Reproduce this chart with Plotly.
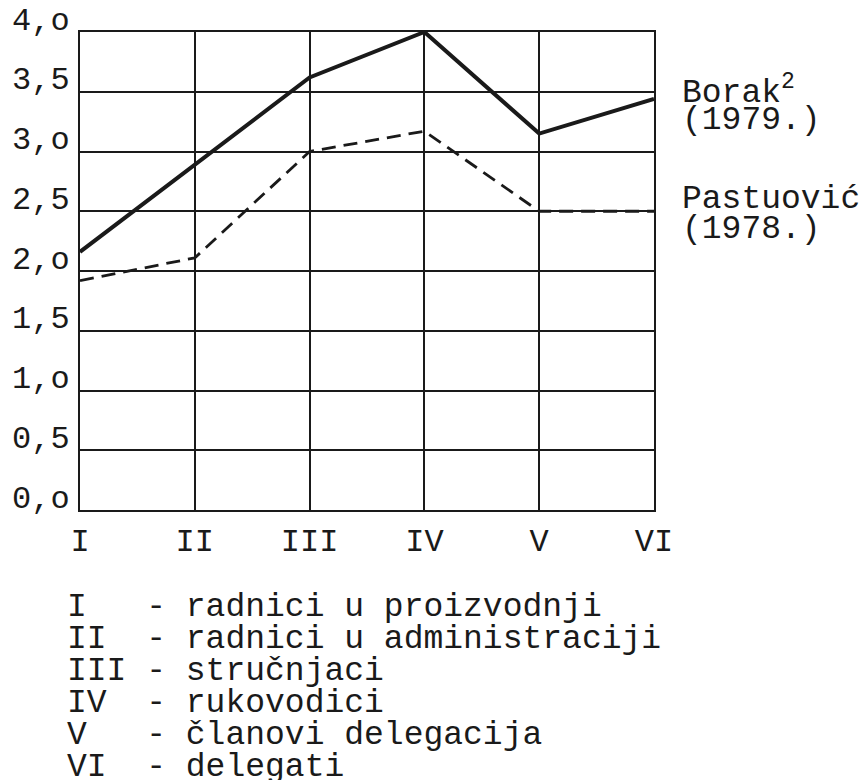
import plotly.graph_objects as go

categories = ["I", "II", "III", "IV", "V", "VI"]
borak = [2.16, 2.89, 3.62, 4.0, 3.15, 3.44]
pastuovic = [1.92, 2.11, 3.0, 3.17, 2.5, 2.5]
ytick_vals = [4.0, 3.5, 3.0, 2.5, 2.0, 1.5, 1.0, 0.5, 0.0]
ytick_labels = ["4,o", "3,5", "3,o", "2,5", "2,o", "1,5", "1,o", "0,5", "0,o"]
borak_label = ["Borak<sup>2</sup>", "(1979.)"]
pastuovic_label = ["Pastuović", "(1978.)"]
key_labels = [
    "I   - radnici u proizvodnji",
    "II  - radnici u administraciji",
    "III - stručnjaci",
    "IV  - rukovodici",
    "V   - članovi delegacija",
    "VI  - delegati",
]

FONT = "Liberation Mono, Courier New, monospace"
INK = "#1a1a1a"
xpos = list(range(len(categories)))

fig = go.Figure()
fig.add_trace(go.Scatter(x=xpos, y=borak, mode="lines", cliponaxis=False,
                         line=dict(color=INK, width=4), showlegend=False))
fig.add_trace(go.Scatter(x=xpos, y=pastuovic, mode="lines", cliponaxis=False,
                         line=dict(color=INK, width=2.8, dash="14px,8px"), showlegend=False))

annotations = []
for v, t in zip(ytick_vals, ytick_labels):
    annotations.append(dict(x=0, xref="paper", y=v, yref="y", text=t, showarrow=False,
                            xanchor="right", yanchor="middle", xshift=-8, yshift=11,
                            font=dict(family=FONT, size=32, color=INK)))

# series labels at right (two typed lines each)
for lines, anchor_y, base_shift in ((borak_label, borak[-1], 8), (pastuovic_label, pastuovic[-1], 12)):
    for j, t in enumerate(lines):
        annotations.append(dict(x=1, xref="paper", y=anchor_y, yref="y", text=t,
                                showarrow=False, xanchor="left", yanchor="middle",
                                xshift=26, yshift=base_shift - j * 30, align="left",
                                font=dict(family=FONT, size=33, color=INK)))

for i, t in enumerate(key_labels):
    annotations.append(dict(x=0, xref="paper", y=0, yref="paper", text=t.replace(" ", "\u00a0"),
                            showarrow=False, xanchor="left", yanchor="middle",
                            xshift=-15, yshift=-(97 + i * 32), align="left",
                            font=dict(family=FONT, size=33, color=INK)))

fig.update_layout(
    width=864, height=780,
    margin=dict(l=80, r=210, t=32, b=270),
    paper_bgcolor="white", plot_bgcolor="white",
    annotations=annotations,
    xaxis=dict(range=[0, len(categories) - 1], tickvals=xpos, ticktext=categories,
               showgrid=True, gridcolor=INK, gridwidth=2, zeroline=False,
               showline=True, linecolor=INK, linewidth=2, mirror=True,
               ticks="", ticklabelstandoff=1,
               tickfont=dict(family=FONT, size=32, color=INK), fixedrange=True),
    yaxis=dict(range=[0, 4], tickvals=ytick_vals, showticklabels=False,
               showgrid=True, gridcolor=INK, gridwidth=2, zeroline=False,
               showline=True, linecolor=INK, linewidth=2, mirror=True,
               ticks="", fixedrange=True),
)

fig.write_html("out.html", config={"displayModeBar": False},
               post_script="document.body.style.margin='0';document.body.style.overflow='hidden';")
